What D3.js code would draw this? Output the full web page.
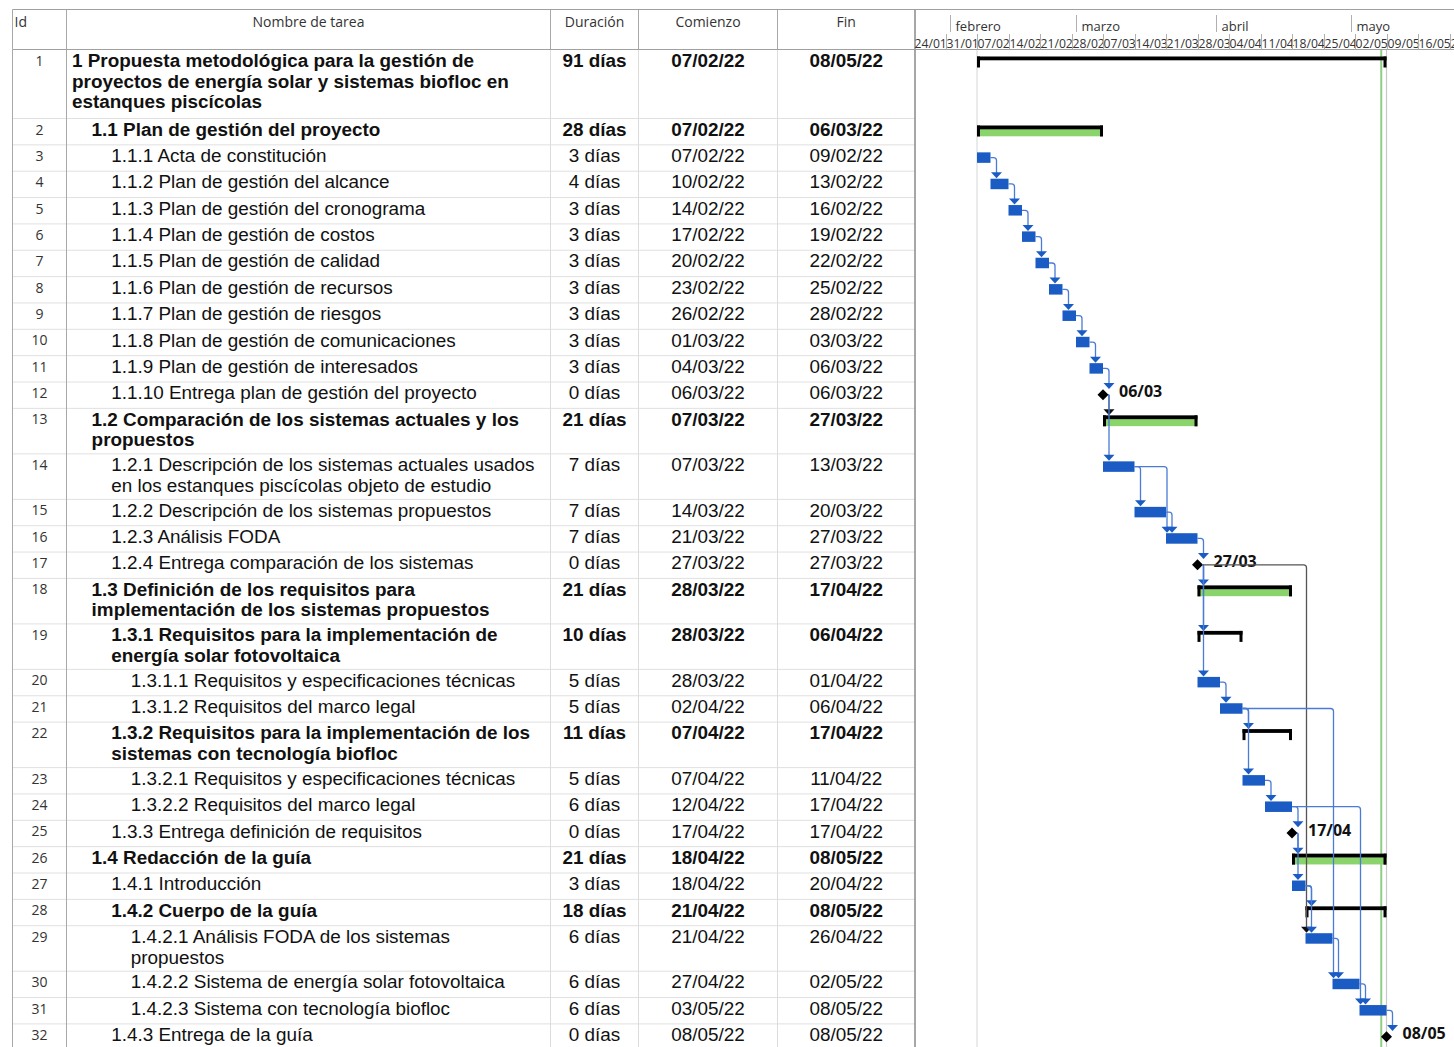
<!DOCTYPE html>
<html>
<head>
<meta charset="utf-8">
<script src="https://cdn.jsdelivr.net/npm/d3@7"></script>
<style>
  body { margin: 0; background: #fff; }
  svg { display: block; }
  .cell { font-family: "Liberation Sans", Arial, sans-serif; font-size: 18.9px; fill: #111; }
  .bold { font-weight: bold; }
  .hdr { font-family: "Open Sans", sans-serif; font-size: 14px; fill: #333; }
  .idn { font-family: "Open Sans", sans-serif; font-size: 14px; fill: #333; }
  .tick { font-family: "Open Sans", sans-serif; fill: #333; }
  .mlabel { font-family: "Open Sans", sans-serif; font-size: 16px; font-weight: bold; fill: #111; }
</style>
</head>
<body>
<svg class="main" width="1454" height="1047"></svg>
<script>
const names = [
  "1 Propuesta metodológica para la gestión de\nproyectos de energía solar y sistemas biofloc en\nestanques piscícolas",
  "1.1 Plan de gestión del proyecto",
  "1.1.1 Acta de constitución",
  "1.1.2 Plan de gestión del alcance",
  "1.1.3 Plan de gestión del cronograma",
  "1.1.4 Plan de gestión de costos",
  "1.1.5 Plan de gestión de calidad",
  "1.1.6 Plan de gestión de recursos",
  "1.1.7 Plan de gestión de riesgos",
  "1.1.8 Plan de gestión de comunicaciones",
  "1.1.9 Plan de gestión de interesados",
  "1.1.10 Entrega plan de gestión del proyecto",
  "1.2 Comparación de los sistemas actuales y los\npropuestos",
  "1.2.1 Descripción de los sistemas actuales usados\nen los estanques piscícolas objeto de estudio",
  "1.2.2 Descripción de los sistemas propuestos",
  "1.2.3 Análisis FODA",
  "1.2.4 Entrega comparación de los sistemas",
  "1.3 Definición de los requisitos para\nimplementación de los sistemas propuestos",
  "1.3.1 Requisitos para la implementación de\nenergía solar fotovoltaica",
  "1.3.1.1 Requisitos y especificaciones técnicas",
  "1.3.1.2 Requisitos del marco legal",
  "1.3.2 Requisitos para la implementación de los\nsistemas con tecnología biofloc",
  "1.3.2.1 Requisitos y especificaciones técnicas",
  "1.3.2.2 Requisitos del marco legal",
  "1.3.3 Entrega definición de requisitos",
  "1.4 Redacción de la guía",
  "1.4.1 Introducción",
  "1.4.2 Cuerpo de la guía",
  "1.4.2.1 Análisis FODA de los sistemas\npropuestos",
  "1.4.2.2 Sistema de energía solar fotovoltaica",
  "1.4.2.3 Sistema con tecnología biofloc",
  "1.4.3 Entrega de la guía"
];
const levels = [1, 2, 3, 3, 3, 3, 3, 3, 3, 3, 3, 3, 2, 3, 3, 3, 3, 2, 3, 4, 4, 3, 4, 4, 3, 2, 3, 3, 4, 4, 4, 3];
const durations = [91, 28, 3, 4, 3, 3, 3, 3, 3, 3, 3, 0, 21, 7, 7, 7, 0, 21, 10, 5, 5, 11, 5, 6, 0, 21, 3, 18, 6, 6, 6, 0];
const starts = ["07/02/22", "07/02/22", "07/02/22", "10/02/22", "14/02/22", "17/02/22", "20/02/22", "23/02/22",
  "26/02/22", "01/03/22", "04/03/22", "06/03/22", "07/03/22", "07/03/22", "14/03/22", "21/03/22", "27/03/22",
  "28/03/22", "28/03/22", "28/03/22", "02/04/22", "07/04/22", "07/04/22", "12/04/22", "17/04/22", "18/04/22",
  "18/04/22", "21/04/22", "21/04/22", "27/04/22", "03/05/22", "08/05/22"];
const ends = ["08/05/22", "06/03/22", "09/02/22", "13/02/22", "16/02/22", "19/02/22", "22/02/22", "25/02/22",
  "28/02/22", "03/03/22", "06/03/22", "06/03/22", "27/03/22", "13/03/22", "20/03/22", "27/03/22", "27/03/22",
  "17/04/22", "06/04/22", "01/04/22", "06/04/22", "17/04/22", "11/04/22", "17/04/22", "17/04/22", "08/05/22",
  "20/04/22", "08/05/22", "26/04/22", "02/05/22", "08/05/22", "08/05/22"];
const summaryIds = [1, 2, 13, 18, 19, 22, 26, 28];
const greenSummaryIds = [2, 13, 18, 26];
const links = [[3, 4], [4, 5], [5, 6], [6, 7], [7, 8], [8, 9], [9, 10], [10, 11], [11, 12],
  [12, 13], [12, 14], [14, 15], [14, 16], [15, 16], [16, 17],
  [17, 18], [17, 19], [17, 20], [17, 29], [20, 21], [21, 22], [21, 23], [21, 30],
  [23, 24], [24, 25], [24, 31], [25, 26], [25, 27], [27, 28], [27, 29], [29, 30], [30, 31], [31, 32]];
const darkLinks = ["12-13", "17-29"];
const timeRange = ["24/01/22", "24/05/22"];
const statusDate = "07/05/22 20:00";
const monthNames = ["enero", "febrero", "marzo", "abril", "mayo", "junio"];
const headers = ["Id", "Nombre de tarea", "Duración", "Comienzo", "Fin"];

const parse = d3.utcParse("%d/%m/%y");
const dayAfter = d => d3.utcDay.offset(parse(d), 1);

const layout = {
  top: 9.5, headerBottom: 49.5, bottom: 1047,
  cols: [12.5, 66.5, 550.5, 638.5, 777.5, 915],
  ganttLeft: 914, ganttRight: 1454
};

const rowHeight = lines => (lines === 1 ? 26.35 : lines === 2 ? 45.5 : 69);

let yCursor = layout.headerBottom;
const rows = names.map((name, i) => {
  const lines = name.split("\n");
  const top = yCursor;
  const h = rowHeight(lines.length);
  yCursor += h;
  const id = i + 1;
  const summary = summaryIds.includes(id);
  return {
    id, lines, top, h, level: levels[i], dur: durations[i],
    start: parse(starts[i]), finish: dayAfter(ends[i]),
    startText: starts[i], endText: ends[i],
    summary, green: greenSummaryIds.includes(id),
    milestone: !summary && durations[i] === 0
  };
});
const byId = new Map(rows.map(r => [r.id, r]));

const x = d3.scaleUtc()
  .domain([parse(timeRange[0]), parse(timeRange[1])])
  .range([layout.ganttLeft, layout.ganttRight]);

const main = d3.select(".main");
main.append("rect").attr("width", 1454).attr("height", 1047).attr("fill", "#fff");

const tableGroup = main.append("g");
const ganttGroup = main.append("g");
const linkGroup = main.append("g");
const frameGroup = main.append("g");

// table rows
rows.forEach(r => {
  tableGroup.append("line")
    .attr("x1", layout.cols[0]).attr("x2", layout.cols[5])
    .attr("y1", r.top + r.h).attr("y2", r.top + r.h)
    .attr("stroke", "#e0e0e0");

  tableGroup.append("text").attr("class", "idn")
    .attr("x", (layout.cols[0] + layout.cols[1]) / 2)
    .attr("y", r.top + 16)
    .attr("text-anchor", "middle")
    .text(r.id);

  const t = tableGroup.append("text")
    .attr("class", "cell" + (r.summary ? " bold" : ""))
    .attr("y", r.top + 17.2);
  r.lines.forEach((ln, k) => {
    t.append("tspan")
      .attr("x", 72 + (r.level - 1) * 19.6)
      .attr("dy", k === 0 ? 0 : 20.8)
      .text(ln);
  });

  [r.dur + " días", r.startText, r.endText].forEach((txt, k) => {
    tableGroup.append("text")
      .attr("class", "cell" + (r.summary ? " bold" : ""))
      .attr("x", (layout.cols[k + 2] + layout.cols[k + 3]) / 2)
      .attr("y", r.top + 17.2)
      .attr("text-anchor", "middle")
      .text(txt);
  });
});

// column separators
layout.cols.slice(0, 5).forEach((cx, i) => {
  frameGroup.append("line")
    .attr("x1", cx).attr("x2", cx)
    .attr("y1", layout.headerBottom).attr("y2", layout.bottom)
    .attr("stroke", i < 2 ? "#a8a8a8" : "#dcdcdc");
  frameGroup.append("line")
    .attr("x1", cx).attr("x2", cx)
    .attr("y1", layout.top).attr("y2", layout.headerBottom)
    .attr("stroke", "#a8a8a8");
});
frameGroup.append("line")
  .attr("x1", layout.cols[5]).attr("x2", layout.cols[5])
  .attr("y1", layout.top).attr("y2", layout.bottom)
  .attr("stroke", "#8a8a8a").attr("stroke-width", 1.5);
[layout.top, layout.headerBottom].forEach(y => {
  frameGroup.append("line")
    .attr("x1", layout.cols[0]).attr("x2", layout.ganttRight)
    .attr("y1", y).attr("y2", y)
    .attr("stroke", "#a0a0a0");
});

headers.forEach((h, i) => {
  const c0 = layout.cols[i], c1 = layout.cols[i + 1];
  frameGroup.append("text").attr("class", "hdr")
    .attr("x", i === 0 ? c0 + 2 : (c0 + c1) / 2)
    .attr("y", 27)
    .attr("text-anchor", i === 0 ? "start" : "middle")
    .text(h);
});

// timescale
const months = d3.utcMonth.range(x.domain()[0], x.domain()[1]);
months.forEach(m => {
  const mx = Math.round(x(m)) + 0.5;
  frameGroup.append("line")
    .attr("x1", mx).attr("x2", mx).attr("y1", 15).attr("y2", 32)
    .attr("stroke", "#b0b0b0");
  frameGroup.append("text").attr("class", "tick")
    .attr("x", mx + 5).attr("y", 30.5)
    .attr("font-size", 13)
    .text(monthNames[m.getUTCMonth()]);
});
const weeks = d3.utcMonday.range(x.domain()[0], x.domain()[1]);
const weekFmt = d3.utcFormat("%d/%m");
weeks.forEach((w, i) => {
  const wx = Math.round(x(w)) + 0.5;
  if (i > 0) {
    frameGroup.append("line")
      .attr("x1", wx).attr("x2", wx).attr("y1", 34).attr("y2", layout.headerBottom)
      .attr("stroke", "#b0b0b0");
  }
  frameGroup.append("text").attr("class", "tick")
    .attr("x", wx).attr("y", 47.5)
    .attr("font-size", 12.2)
    .text(weekFmt(w));
});

// project start / finish / status lines
const project = byId.get(1);
ganttGroup.append("line")
  .attr("x1", x(project.start)).attr("x2", x(project.start))
  .attr("y1", layout.headerBottom).attr("y2", layout.bottom)
  .attr("stroke", "#dcdcdc").attr("stroke-width", 1.2);
ganttGroup.append("line")
  .attr("x1", x(project.finish)).attr("x2", x(project.finish))
  .attr("y1", layout.headerBottom).attr("y2", layout.bottom)
  .attr("stroke", "#c8c8c8").attr("stroke-width", 1.2);
const sx = x(d3.utcParse("%d/%m/%y %H:%M")(statusDate));
ganttGroup.append("line")
  .attr("x1", sx).attr("x2", sx)
  .attr("y1", layout.headerBottom).attr("y2", layout.bottom)
  .attr("stroke", "#8fcf84").attr("stroke-width", 2);

const BLUE = "#1b5cc4";

// bars
rows.forEach(r => {
  const x0 = x(r.start), x1 = x(r.finish);
  const yc = r.top + 12.75;
  if (r.summary) {
    if (r.green) {
      ganttGroup.append("rect")
        .attr("x", x0).attr("y", r.top + 10.5)
        .attr("width", x1 - x0).attr("height", 7.3)
        .attr("fill", "#8bd46c");
    }
    ganttGroup.append("rect")
      .attr("x", x0).attr("y", r.top + 7)
      .attr("width", x1 - x0).attr("height", 3.8)
      .attr("fill", "#000");
    [x0, x1 - 3].forEach(cx => {
      ganttGroup.append("rect")
        .attr("x", cx).attr("y", r.top + 7)
        .attr("width", 3).attr("height", 11)
        .attr("fill", "#000");
    });
  } else if (r.milestone) {
    const s = 5.5;
    ganttGroup.append("path")
      .attr("d", `M${x1},${yc - s}L${x1 + s},${yc}L${x1},${yc + s}L${x1 - s},${yc}Z`)
      .attr("fill", "#000");
    ganttGroup.append("text").attr("class", "mlabel")
      .attr("x", x1 + 16).attr("y", yc + 2.5)
      .text(weekFmt(d3.utcDay.offset(r.finish, -1)));
  } else {
    ganttGroup.append("rect")
      .attr("x", x0).attr("y", r.top + 7.5)
      .attr("width", x1 - x0).attr("height", 10.5)
      .attr("fill", BLUE);
  }
});

// links
links.forEach(([a, b]) => {
  const ra = byId.get(a), rb = byId.get(b);
  const dark = darkLinks.includes(`${a}-${b}`);
  const aEnd = x(ra.finish);
  const xa = ra.milestone ? aEnd + 5 : aEnd;
  const ya = ra.top + 12.75;
  const xb = rb.milestone ? x(rb.finish) : x(rb.start);
  const yb = rb.top + 7;
  const xv = Math.max(xb + 1, aEnd + 6);
  const rad = Math.min(3, Math.max(0, xv - xa));
  linkGroup.append("path")
    .attr("d", `M${xa},${ya}H${xv - rad}Q${xv},${ya} ${xv},${ya + rad}V${yb - 5}`)
    .attr("fill", "none")
    .attr("stroke", dark ? "#555" : "#4a7bd6")
    .attr("stroke-width", 1.3);
  linkGroup.append("path")
    .attr("d", `M${xv - 5.5},${yb - 6}L${xv + 5.5},${yb - 6}L${xv},${yb}Z`)
    .attr("fill", dark ? "#111" : BLUE);
});
</script>
</body>
</html>
